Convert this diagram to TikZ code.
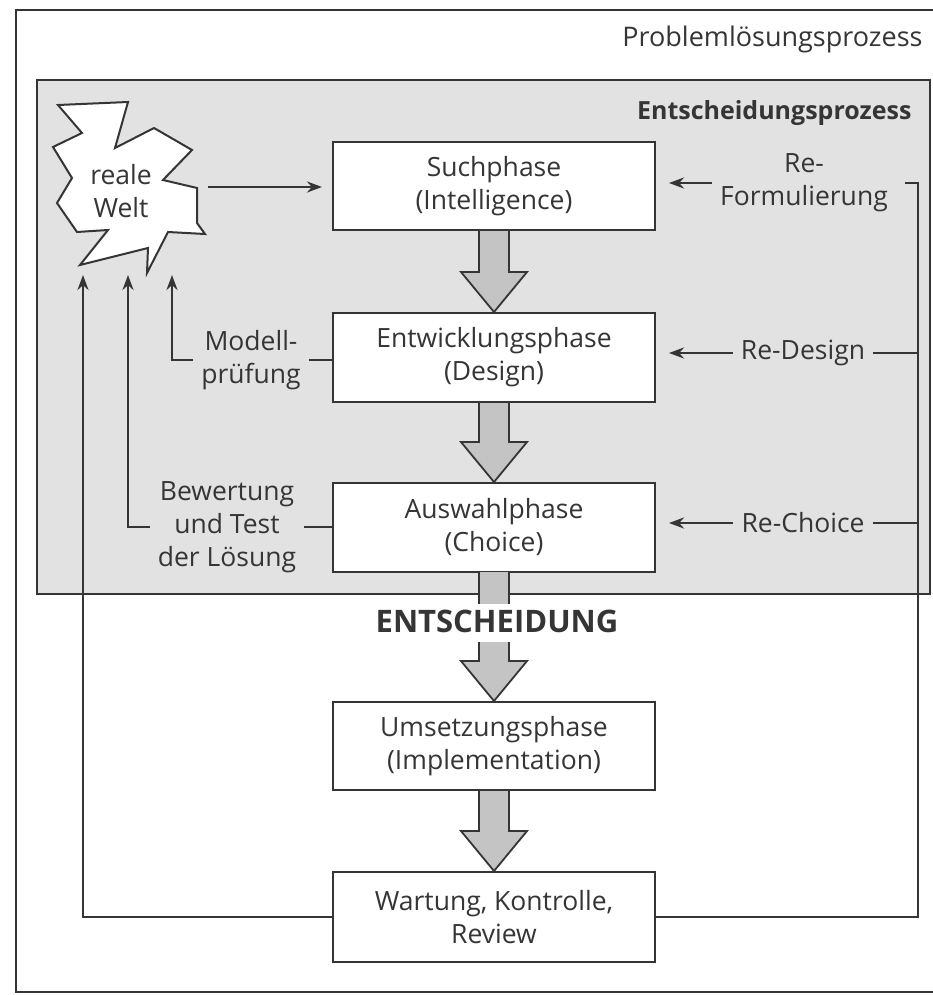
\documentclass[tikz,border=0pt]{standalone}
\usepackage{fontspec}
\setmainfont{Open Sans}
\usetikzlibrary{calc,arrows.meta}
\definecolor{ink}{HTML}{353535}
\definecolor{panel}{HTML}{E2E2E2}
\definecolor{fat}{HTML}{C4C4C4}
% broad grey block arrow between two phase boxes (open at the top)
\newcommand{\phasearrow}[2]{%
  \filldraw[fatarr] let \p1=(#1), \p2=(#2) in
    (\x1-15pt,\y1) -- (\x1-15pt,\y2+40pt) -- (\x1-33pt,\y2+40pt) -- (\x2,\y2)
    -- (\x1+33pt,\y2+40pt) -- (\x1+15pt,\y2+40pt) -- (\x1+15pt,\y1);}
\begin{document}
\begin{tikzpicture}[x=1pt,y=-1pt,
  every node/.style={text=ink, font=\fontsize{26.5}{33}\selectfont},
  phase/.style={draw=ink, line width=2pt, fill=white, minimum width=322pt,
    minimum height=88pt, align=center, inner sep=0pt},
  lbl/.style={align=center, inner xsep=8pt, inner ysep=2pt},
  conn/.style={draw=ink, line width=2.6pt},
  arr/.style={conn, -{Stealth[length=15pt,width=11pt]}},
  fatarr/.style={fill=fat, draw=ink, line width=1.8pt, line join=miter},
]
\useasboundingbox (0,0) rectangle (933,995);

% outer frame: problem solving process
\draw[ink, line width=1.5pt] (933,10) -- (16,10) -- (16,992) -- (933,992);
% shaded panel: decision process
\draw[draw=ink, line width=1.8pt, fill=panel] (37,80) rectangle (930,594);

\node[anchor=base east, font=\fontsize{27}{32}\selectfont] (plp) at (926,47) {Problemlösungsprozess};
\node[anchor=base east, font=\bfseries\fontsize{25}{30}\selectfont] (edp) at (915,120) {Entscheidungsprozess};

% the real world
\draw[draw=ink, line width=2pt, fill=white, line join=miter]
  (58,105) -- (128,102) -- (115,148) -- (154,128) -- (192,150) -- (163,180)
  -- (197,188) -- (197,223) -- (205,234) -- (168,232) -- (147,273) -- (148,248)
  -- (80,265) -- (108,230) -- (77,232) -- (57,203) -- (72,178) -- (53,147)
  -- (82,133) -- cycle;
\node[align=center, inner sep=0pt] (welt) at (121,191) {reale\\Welt};

% phases
\node[phase] (such) at (494,186) {Suchphase\\(Intelligence)};
\node[phase, minimum height=89pt] (entw) at (494,357.5) {Entwicklungsphase\\(Design)};
\node[phase, minimum height=89pt] (ausw) at (494,527.5) {Auswahlphase\\(Choice)};
\node[phase] (ums) at (494,746) {Umsetzungsphase\\(Implementation)};
\node[phase, minimum height=90pt] (wart) at (494,917) {Wartung, Kontrolle,\\Review};

\node[font=\bfseries\fontsize{31}{36}\selectfont] (ent) at (497,621) {ENTSCHEIDUNG};

% block arrows down the phase column
\phasearrow{such.south}{entw.north}
\phasearrow{entw.south}{ausw.north}
\fill[fat] (479,572) rectangle (509,604);
\draw[ink, line width=1.8pt] (479,572) -- (479,604) (509,572) -- (509,604);
\coordinate (e3) at (494,642);
\phasearrow{e3}{ums.north}
\phasearrow{ums.south}{wart.north}

% real world -> search phase
\coordinate (weltR) at (208,187);
\draw[arr, shorten >=10pt] (weltR) -- (weltR -| such.west);

% feedback to the real world
\node[lbl] (modell) at (251,360) {Modell-\\prüfung};
\node[lbl] (bew) at (227,527) {Bewertung\\und Test\\der Lösung};
\coordinate (tipA) at (83,275);
\coordinate (tipB) at (128,275);
\coordinate (tipC) at (172,275);
\draw[conn] (modell.east) -- (modell.east -| entw.west);
\draw[arr] (modell.west) -| (tipC);
\draw[conn] (bew.east) -- (bew.east -| ausw.west);
\draw[arr] (bew.west) -| (tipB);
\draw[arr] (wart.west) -| (tipA);

% feedback into the decision phases
\node[lbl] (reform) at (804,183) {Re-\\Formulierung};
\node[lbl] (redes) at (803,353) {Re-Design};
\node[lbl] (recho) at (803,523) {Re-Choice};
\coordinate (rtop) at (905,183);
\coordinate (rx) at (918,0);
\draw[conn] (wart.east) -| (rx |- rtop) -- (rtop);
\draw[conn] (redes.east) -- (redes.east -| rx);
\draw[conn] (recho.east) -- (recho.east -| rx);
\draw[arr, shorten >=13pt] (reform.west) -- (reform.west -| such.east);
\draw[arr, shorten >=13pt] (redes.west) -- (redes.west -| entw.east);
\draw[arr, shorten >=13pt] (recho.west) -- (recho.west -| ausw.east);
\end{tikzpicture}
\end{document}
